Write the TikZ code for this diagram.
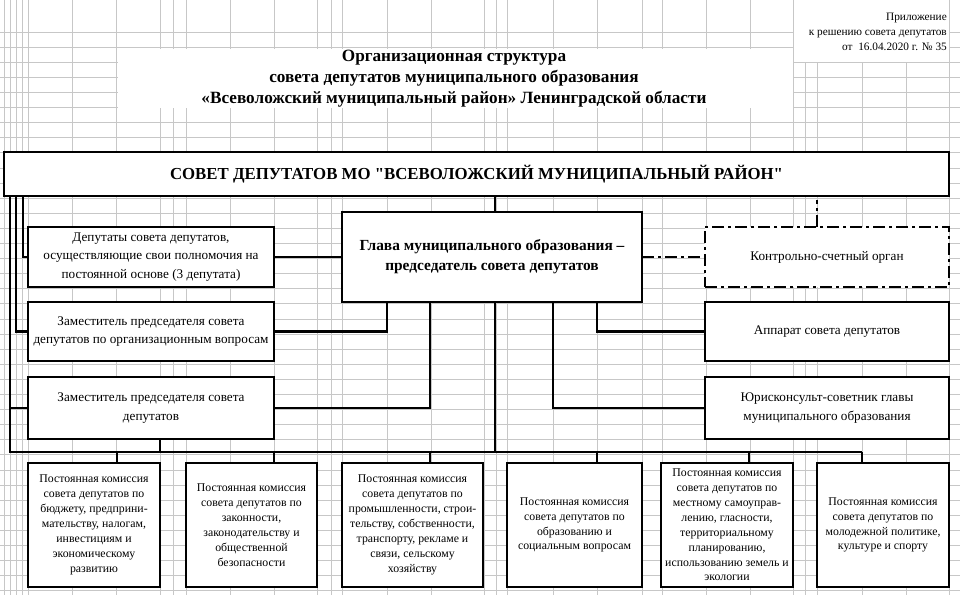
\documentclass[tikz,border=0pt]{standalone}
\usepackage{fontspec}
\setmainfont{Liberation Serif}[Ligatures=TeXOff]
\begin{document}
\begin{tikzpicture}[x=1pt,y=-1pt,
  box/.style={draw=black,line width=2.6pt,fill=white,inner sep=0pt,outer sep=0pt,align=center,font=\fontsize{13.2}{18.8}\selectfont},
  combox/.style={box,minimum height=124pt,font=\fontsize{11.8}{14.9}\selectfont},
  link/.style={line width=2.6pt},
  dashdot/.style={line width=2.6pt,dash pattern=on 12pt off 4pt on 3pt off 4pt},
  gridline/.style={black!22,line width=.7pt}]
\useasboundingbox (0,0) rectangle (960,595);
\fill[white] (0,0) rectangle (960,595);
\foreach \gx in {4,10,16,22,28,72,116,160,173,186,230,274,317,331,342,387,431,484,496,507,553,597,642,662,706,750,793,805,817,862,906,949}
  \draw[gridline] (\gx,0) -- (\gx,595);
\foreach \k in {0,...,37}
  \draw[gridline] (0,32+15.1*\k) -- (960,32+15.1*\k);
\fill[white] (117.5,48.5) rectangle (792.5,107.5);
\fill[white] (793.5,0) rectangle (948.5,61.5);
\node[font=\fontsize{17.2}{21}\selectfont\bfseries,align=center] (title) at (454,79) {Организационная структура\\совета депутатов муниципального образования\\«Всеволожский муниципальный район» Ленинградской области};
\node[anchor=north east,align=right,inner sep=0pt,font=\fontsize{11.3}{14.8}\selectfont] (annex) at (947,13) {Приложение\\к решению совета депутатов\\от\ \ 16.04.2020 г. № 35};
\node[box,minimum width=945pt,minimum height=44pt,font=\fontsize{16.8}{18}\selectfont\bfseries] (council) at (476.5,174) {СОВЕТ ДЕПУТАТОВ МО "ВСЕВОЛОЖСКИЙ МУНИЦИПАЛЬНЫЙ РАЙОН"};
\node[box,minimum width=246pt,minimum height=60pt] (deput) at (151,257) {Депутаты совета депутатов,\\осуществляющие свои полномочия на\\постоянной основе (3 депутата)};
\node[box,minimum width=246pt,minimum height=59pt] (zam1) at (151,331.5) {Заместитель председателя совета\\депутатов по организационным вопросам};
\node[box,minimum width=246pt,minimum height=62pt] (zam2) at (151,408) {Заместитель председателя совета\\депутатов};
\node[box,minimum width=300pt,minimum height=90pt,font=\fontsize{15.4}{20}\selectfont\bfseries] (glava) at (492,257) {Глава муниципального образования –\\председатель совета депутатов};
\node[box,dashdot,minimum width=244pt,minimum height=60pt] (ksp) at (827,257) {Контрольно-счетный орган};
\node[box,minimum width=244pt,minimum height=59pt] (apparat) at (827,331.5) {Аппарат совета депутатов};
\node[box,minimum width=244pt,minimum height=62pt] (jurist) at (827,408) {Юрисконсульт-советник главы\\муниципального образования};
\node[combox,minimum width=132pt] (k1) at (94,525) {Постоянная комиссия\\совета депутатов по\\бюджету, предприни-\\мательству, налогам,\\инвестициям и\\экономическому\\развитию};
\node[combox,minimum width=131pt] (k2) at (251.5,525) {Постоянная комиссия\\совета депутатов по\\законности,\\законодательству и\\общественной\\безопасности};
\node[combox,minimum width=141pt] (k3) at (412.5,525) {Постоянная комиссия\\совета депутатов по\\промышленности, строи-\\тельству, собственности,\\транспорту, рекламе и\\связи, сельскому\\хозяйству};
\node[combox,minimum width=135pt] (k4) at (574.5,525) {Постоянная комиссия\\совета депутатов по\\образованию и\\социальным вопросам};
\node[combox,minimum width=132pt] (k5) at (727,525) {Постоянная комиссия\\совета депутатов по\\местному самоуправ-\\лению, гласности,\\территориальному\\планированию,\\использованию земель и\\экологии};
\node[combox,minimum width=132pt] (k6) at (883,525) {Постоянная комиссия\\совета депутатов по\\молодежной политике,\\культуре и спорту};
\draw[link] ([xshift=19]council.south west) |- (deput.west);
\draw[link] ([xshift=12]council.south west) |- (zam1.west);
\draw[link] ([xshift=6]council.south west) |- ([xshift=-21,yshift=11]k6.north);
\draw[link] (zam2.west) -- ++(-18,0);
\draw[link] ([xshift=9]zam2.south) -- ++(0,13);
\foreach \k/\dx in {k1/23,k2/22.5,k3/17.5,k4/22.5,k5/22,k6/-21}
  \draw[link] ([xshift=\dx]\k.north) -- ++(0,-11);
\draw[link] ([xshift=3]glava.north) -- ++(0,-16);
\draw[link] (glava.west) -- (deput.east);
\draw[link] ([xshift=-105]glava.south) |- (zam1.east);
\draw[link] ([xshift=-62]glava.south) |- (zam2.east);
\draw[link] ([xshift=3]glava.south) -- ++(0,150);
\draw[link] ([xshift=61]glava.south) |- (jurist.west);
\draw[link] ([xshift=105]glava.south) |- (apparat.west);
\draw[dashdot] (glava.east) -- (ksp.west);
\draw[dashdot] ([xshift=-10]ksp.north) -- ++(0,-27);
\end{tikzpicture}
\end{document}
